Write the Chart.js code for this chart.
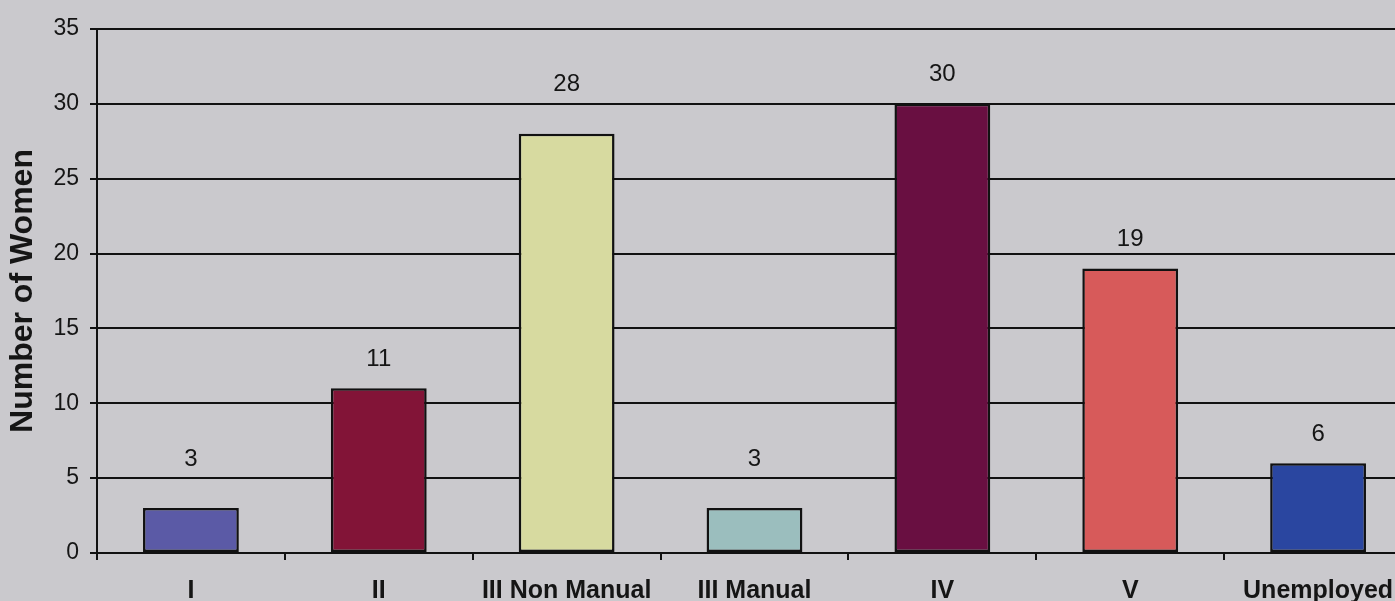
<!DOCTYPE html>
<html>
<head>
<meta charset="utf-8">
<script src="https://cdn.jsdelivr.net/npm/chart.js@4.4.0/dist/chart.umd.min.js"></script>
<style>
  html, body { margin: 0; padding: 0; background: #cac9cd; overflow: hidden; }
  #wrap { position: relative; width: 1415px; height: 601px; }
</style>
</head>
<body>
<div id="wrap"><canvas id="socialChart"></canvas></div>
<script>
// DATA
const categories = ["I", "II", "III Non Manual", "III Manual", "IV", "V", "Unemployed"];
const womenCounts = [3, 11, 28, 3, 30, 19, 6];
const barColors = ["#5b5aa6", "#821437", "#d7daa0", "#9bbebe", "#690f41", "#d75a5a", "#2a46a0"];
const yTitle = "Number of Women";

const FONT = "'Liberation Sans', Arial, sans-serif";
const INK = "#151515";

// value labels above bars, nudged up when they would sit on a gridline
const valueLabels = {
  id: "valueLabels",
  afterDatasetsDraw(chart) {
    const c = chart.ctx;
    const yScale = chart.scales.y;
    const gridYs = yScale.ticks.map(t => yScale.getPixelForValue(t.value));
    c.save();
    c.font = "24px " + FONT;
    c.fillStyle = INK;
    c.textAlign = "center";
    c.textBaseline = "middle";
    chart.getDatasetMeta(0).data.forEach((bar, i) => {
      let ly = bar.y - 29;
      gridYs.forEach(gy => {
        if (Math.abs(ly - gy) < 12) ly = gy - 19;
      });
      c.fillText(String(womenCounts[i]), bar.x, ly);
    });
    c.restore();
  }
};

const ctx = document.getElementById("socialChart").getContext("2d");
new Chart(ctx, {
  type: "bar",
  data: {
    labels: categories,
    datasets: [{
      data: womenCounts,
      backgroundColor: barColors,
      borderColor: "#111",
      borderWidth: 2.5,
      borderSkipped: false,
      categoryPercentage: 1,
      barPercentage: 0.51
    }]
  },
  options: {
    animation: false,
    responsive: true,
    maintainAspectRatio: false,
    layout: { padding: { top: 29, right: 3, left: 0, bottom: 0 } },
    plugins: {
      legend: { display: false },
      tooltip: { enabled: false }
    },
    scales: {
      y: {
        min: 0,
        max: 35,
        ticks: { stepSize: 5, color: INK, font: { family: FONT, size: 23 }, padding: 11 },
        grid: { color: "#111", lineWidth: 2, tickLength: 7, drawTicks: true },
        border: { display: true, color: "#111", width: 2 },
        title: { display: true, text: yTitle, color: INK, font: { family: FONT, size: 32, weight: "bold" }, padding: { top: 4, bottom: 0 } },
        afterFit(scale) { scale.width = 97; }
      },
      x: {
        ticks: { color: INK, font: { family: FONT, size: 25, weight: "bold" }, padding: 16, maxRotation: 0, autoSkip: false },
        grid: { offset: true, drawOnChartArea: false, drawTicks: true, tickLength: 7, color: "#111", lineWidth: 2 },
        border: { display: true, color: "#111", width: 2 },
        afterFit(scale) { scale.height = 48; }
      }
    }
  },
  plugins: [valueLabels]
});
</script>
</body>
</html>
